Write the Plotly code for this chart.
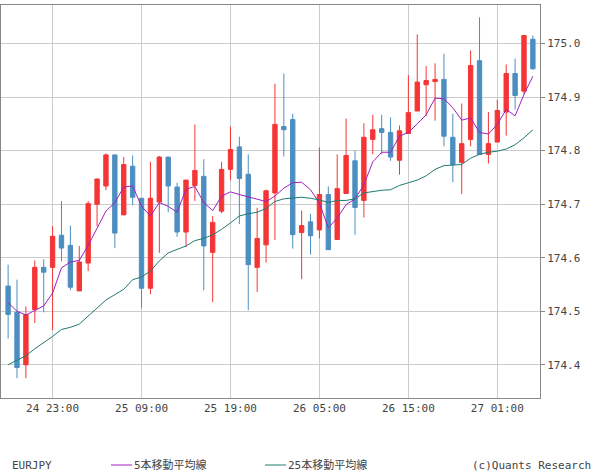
import plotly.graph_objects as go

opens  = [174.547,174.498,174.400,174.503,174.582,174.582,174.642,174.623,174.538,174.590,
          174.700,174.734,174.792,174.680,174.771,174.711,174.543,174.704,174.788,174.732,
          174.648,174.735,174.752,174.610,174.687,174.765,174.807,174.756,174.582,174.624,
          174.721,174.845,174.858,174.647,174.667,174.652,174.718,174.634,174.720,174.781,
          174.707,174.821,174.841,174.834,174.782,174.832,174.874,174.923,174.929,174.933,
          174.825,174.778,174.821,174.968,174.793,174.816,174.872,174.944,174.911,175.008]
highs  = [174.587,174.559,174.509,174.595,174.597,174.659,174.706,174.660,174.622,174.706,
          174.748,174.795,174.792,174.788,174.791,174.711,174.779,174.790,174.788,174.740,
          174.745,174.849,174.784,174.678,174.779,174.845,174.826,174.793,174.693,174.727,
          174.925,174.944,174.869,174.688,174.682,174.806,174.733,174.793,174.860,174.800,
          174.851,174.867,174.867,174.862,174.847,174.941,175.017,174.958,174.963,174.981,
          174.869,174.888,174.987,175.049,174.872,174.895,174.961,174.972,175.015,175.015]
lows   = [174.449,174.375,174.375,174.478,174.498,174.465,174.593,174.539,174.538,174.575,
          174.659,174.726,174.618,174.680,174.698,174.506,174.532,174.609,174.685,174.639,
          174.620,174.706,174.539,174.517,174.683,174.745,174.663,174.502,174.536,174.591,
          174.633,174.789,174.617,174.560,174.606,174.636,174.615,174.634,174.720,174.643,
          174.675,174.793,174.793,174.781,174.755,174.832,174.874,174.865,174.856,174.808,
          174.741,174.719,174.808,174.793,174.776,174.816,174.828,174.877,174.905,174.951]
closes = [174.494,174.395,174.494,174.582,174.573,174.640,174.618,174.545,174.592,174.701,
          174.747,174.792,174.646,174.774,174.713,174.543,174.711,174.788,174.734,174.648,
          174.745,174.763,174.622,174.666,174.765,174.802,174.748,174.587,174.636,174.725,
          174.849,174.839,174.643,174.660,174.641,174.718,174.615,174.729,174.791,174.694,
          174.825,174.839,174.834,174.788,174.837,174.871,174.928,174.931,174.933,174.827,
          174.774,174.813,174.959,174.793,174.813,174.875,174.944,174.903,175.015,174.953]
ma5  = [174.516,174.500,174.493,174.502,174.510,174.534,174.581,174.592,174.595,174.623,
        174.654,174.687,174.703,174.732,174.734,174.696,174.678,174.703,174.696,174.685,
        174.728,174.733,174.703,174.688,174.715,174.723,174.718,174.714,174.709,174.705,
        174.715,174.730,174.740,174.741,174.727,174.702,174.656,174.674,174.699,174.710,
        174.736,174.779,174.797,174.797,174.827,174.834,174.850,174.867,174.898,174.897,
        174.880,174.857,174.861,174.834,174.831,174.849,174.877,174.865,174.905,174.939]
ma25 = [174.400,174.409,174.417,174.430,174.441,174.453,174.466,174.470,174.476,174.491,
        174.506,174.521,174.531,174.541,174.559,174.564,174.575,174.594,174.609,174.615,
        174.622,174.632,174.636,174.643,174.653,174.665,174.678,174.682,174.685,174.692,
        174.705,174.710,174.711,174.713,174.711,174.708,174.703,174.707,174.707,174.710,
        174.721,174.724,174.726,174.727,174.735,174.740,174.745,174.753,174.765,174.772,
        174.773,174.774,174.786,174.793,174.797,174.799,174.803,174.811,174.824,174.839]
tick_pos = [5, 15, 25, 35, 45, 55]
tick_labels = ["24 23:00", "25 09:00", "25 19:00", "26 05:00", "26 15:00", "27 01:00"]
y_ticks = [174.4, 174.5, 174.6, 174.7, 174.8, 174.9, 175.0]

x = list(range(len(opens)))
RED = "#f53535"
BLUE = "#4d8ec0"

fig = go.Figure()
fig.add_trace(go.Candlestick(
    x=x, open=opens, high=highs, low=lows, close=closes,
    increasing=dict(line=dict(color=RED, width=1), fillcolor=RED),
    decreasing=dict(line=dict(color=BLUE, width=1), fillcolor=BLUE),
    whiskerwidth=0, showlegend=False, hoverinfo="skip"))
fig.add_trace(go.Scatter(x=x, y=ma5, mode="lines", line=dict(color="#a020c0", width=1), showlegend=False))
fig.add_trace(go.Scatter(x=x, y=ma25, mode="lines", line=dict(color="#1f7a70", width=1), showlegend=False))

font = "DejaVu Sans Mono, Noto Sans CJK JP"
fig.update_layout(
    width=600, height=475, margin=dict(l=1, r=60, t=5, b=77),
    paper_bgcolor="white", plot_bgcolor="white",
    font=dict(family=font, size=11, color="#444"),
    xaxis=dict(range=[-0.8, 59.8], tickvals=tick_pos, ticktext=tick_labels,
               showgrid=True, gridcolor="#cccccc", gridwidth=1,
               showline=True, linecolor="#888", mirror=True,
               rangeslider=dict(visible=False), ticks="", zeroline=False),
    yaxis=dict(range=[174.338, 175.072], side="right", tickvals=y_ticks,
               ticktext=[f"{v:.1f}" for v in y_ticks],
               showgrid=True, gridcolor="#cccccc", gridwidth=1,
               showline=True, linecolor="#888", mirror=True,
               ticks="outside", ticklen=4, tickcolor="#888", zeroline=False),
)
W, H = 539.0, 393.0
def px(v): return v / W
def py(v): return (398 - v) / H
ly = 465
fig.add_annotation(text="EURJPY", xref="paper", yref="paper", x=px(9), y=py(ly),
                   xanchor="left", yanchor="middle", showarrow=False, font=dict(size=11, color="#444"))
fig.add_shape(type="line", xref="paper", yref="paper", x0=px(110), x1=px(131), y0=py(ly), y1=py(ly),
              line=dict(color="#a020c0", width=1))
fig.add_annotation(text="5本移動平均線", xref="paper", yref="paper", x=px(131), y=py(ly),
                   xanchor="left", yanchor="middle", showarrow=False, font=dict(size=11, color="#444"))
fig.add_shape(type="line", xref="paper", yref="paper", x0=px(264), x1=px(285), y0=py(ly), y1=py(ly),
              line=dict(color="#1f7a70", width=1))
fig.add_annotation(text="25本移動平均線", xref="paper", yref="paper", x=px(285), y=py(ly),
                   xanchor="left", yanchor="middle", showarrow=False, font=dict(size=11, color="#444"))
fig.add_annotation(text="(c)Quants Research", xref="paper", yref="paper", x=px(592), y=py(ly),
                   xanchor="right", yanchor="middle", showarrow=False, font=dict(size=11, color="#444"))

fig.write_html("out.html", config={"displayModeBar": False},
               post_script="document.body.style.margin='0';document.body.style.overflow='hidden';")
